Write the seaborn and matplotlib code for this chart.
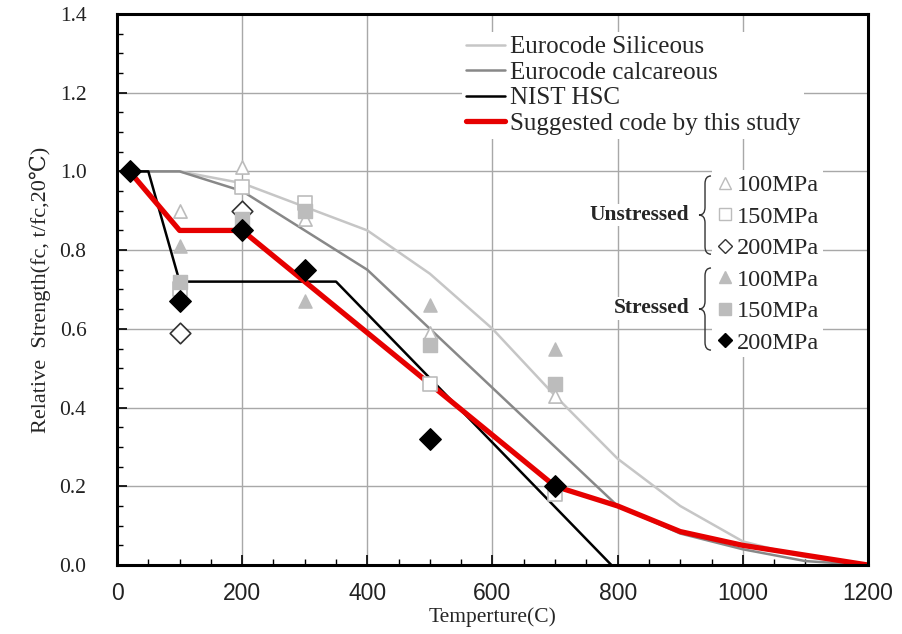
import matplotlib
matplotlib.use("Agg")
import matplotlib.pyplot as plt
from matplotlib.lines import Line2D
from matplotlib.path import Path
from matplotlib.patches import PathPatch
import seaborn as sns

# Courbes de référence
temp_code = [20, 100, 200, 300, 400, 500, 600, 700, 800, 900, 1000, 1100, 1200]
euro_light = [1.0, 1.0, 0.97, 0.91, 0.85, 0.74, 0.60, 0.43, 0.27, 0.15, 0.06, 0.02, 0.0]
euro_dark = [1.0, 1.0, 0.95, 0.85, 0.75, 0.60, 0.45, 0.30, 0.15, 0.08, 0.04, 0.01, 0.0]

temp_nist = [20, 50, 100, 350, 790]
nist_hsc = [1.0, 1.0, 0.72, 0.72, 0.0]

temp_study = [20, 100, 200, 700, 800, 900, 1000, 1100, 1200]
study = [1.0, 0.85, 0.85, 0.20, 0.15, 0.085, 0.05, 0.025, 0.0]

# Points expérimentaux
t_u100 = [100, 200, 300, 500, 700]
u100 = [0.90, 1.01, 0.88, 0.59, 0.43]
t_u150 = [100, 200, 300, 500, 700]
u150 = [0.70, 0.96, 0.92, 0.46, 0.18]
t_u200 = [100, 200]
u200 = [0.59, 0.90]
t_s100 = [100, 300, 500, 700]
s100 = [0.81, 0.67, 0.66, 0.55]
t_s150 = [100, 200, 300, 500, 700]
s150 = [0.72, 0.88, 0.90, 0.56, 0.46]
t_s200 = [20, 100, 200, 300, 500, 700]
s200 = [1.0, 0.67, 0.85, 0.75, 0.32, 0.20]

sns.set_style("white")
plt.rcParams['font.family'] = ['Liberation Serif', 'DejaVu Serif']

LIGHT = '#c6c6c6'
DARK = '#888888'
MARK = '#bcbcbc'

fig = plt.figure(figsize=(9.03, 6.34), dpi=100)
ax = fig.add_axes([0.1296, 0.1088, 0.8316, 0.8692])

# Courbes
sns.lineplot(x=temp_code, y=euro_light, ax=ax, color=LIGHT, lw=1.8, estimator=None, sort=False, zorder=2)
sns.lineplot(x=temp_code, y=euro_dark, ax=ax, color=DARK, lw=1.8, estimator=None, sort=False, zorder=2)
sns.lineplot(x=temp_nist, y=nist_hsc, ax=ax, color='black', lw=1.8, estimator=None, sort=False, zorder=2)
sns.lineplot(x=temp_study, y=study, ax=ax, color='#e60000', lw=3.8, estimator=None, sort=False, zorder=2.5)

# Points
sns.scatterplot(x=t_u100, y=u100, ax=ax, marker='^', s=90, facecolor='white', edgecolor=MARK, linewidth=1.2, zorder=3)
sns.scatterplot(x=t_u150, y=u150, ax=ax, marker='s', s=90, facecolor='white', edgecolor=MARK, linewidth=1.2, zorder=3)
sns.scatterplot(x=t_u200, y=u200, ax=ax, marker='D', s=110, facecolor='white', edgecolor='#333333', linewidth=1.2, zorder=3)
sns.scatterplot(x=t_s100, y=s100, ax=ax, marker='^', s=90, facecolor=MARK, edgecolor=MARK, linewidth=1, zorder=3)
sns.scatterplot(x=t_s150, y=s150, ax=ax, marker='s', s=90, facecolor=MARK, edgecolor=MARK, linewidth=1, zorder=3)
sns.scatterplot(x=t_s200, y=s200, ax=ax, marker='D', s=120, facecolor='black', edgecolor='black', linewidth=1, zorder=3.5)

# Axes
ax.set_xlim(0, 1200)
ax.set_ylim(0, 1.4)
ax.set_xticks(range(0, 1201, 200))
ax.set_yticks([0.0, 0.2, 0.4, 0.6, 0.8, 1.0, 1.2, 1.4])
ax.set_yticklabels(['0.0', '0.2', '0.4', '0.6', '0.8', '1.0', '1.2', '1.4'])
ax.set_xticks(range(0, 1201, 50), minor=True)
ax.set_yticks([i * 0.05 for i in range(29)], minor=True)
ax.grid(True, which='major', color='#a8a8a8', lw=1)
ax.set_axisbelow(True)
for s in ax.spines.values():
    s.set_color('black')
    s.set_linewidth(2.2)
ax.tick_params(axis='both', which='both', direction='in', left=True, bottom=True, right=False, top=False, color='black')
ax.tick_params(axis='both', which='major', length=7, width=1.2)
ax.tick_params(axis='both', which='minor', length=4, width=1)
ax.tick_params(axis='y', which='major', pad=22, labelsize=15.5)
ax.tick_params(axis='x', which='major', pad=12, labelsize=16.5)
for lab in ax.get_xticklabels():
    lab.set_family(['Liberation Sans', 'DejaVu Sans'])
    lab.set_color('#222222')
for lab in ax.get_yticklabels():
    lab.set_color('#222222')

ax.set_xlabel('Temperture(C)', fontsize=15.5, labelpad=2)
ax.set_ylabel('Relative  Strength(fc, t/fc,20\u2103)', fontsize=16, labelpad=6)

# Légende des courbes
line_handles = [
    Line2D([], [], color=LIGHT, lw=1.8),
    Line2D([], [], color=DARK, lw=1.8),
    Line2D([], [], color='black', lw=1.8),
    Line2D([], [], color='#e60000', lw=3.8),
]
line_labels = ['Eurocode Siliceous', 'Eurocode calcareous', 'NIST HSC', 'Suggested code by this study']
leg1 = ax.legend(line_handles, line_labels, loc='upper left', bbox_to_anchor=(0.46, 0.967),
                 frameon=True, facecolor='white', edgecolor='none', framealpha=1, fancybox=False,
                 fontsize=18, handlelength=1.55, handletextpad=0.2, labelspacing=0.12,
                 borderpad=0.15, borderaxespad=0)
ax.add_artist(leg1)

# Légende des essais
pt_handles = [
    Line2D([], [], ls='none', marker='^', ms=8, mfc='white', mec=MARK, mew=1),
    Line2D([], [], ls='none', marker='s', ms=8, mfc='white', mec=MARK, mew=1),
    Line2D([], [], ls='none', marker='D', ms=7, mfc='white', mec='#333333', mew=1),
    Line2D([], [], ls='none', marker='^', ms=8, mfc=MARK, mec=MARK),
    Line2D([], [], ls='none', marker='s', ms=8, mfc=MARK, mec=MARK),
    Line2D([], [], ls='none', marker='D', ms=7, mfc='black', mec='black'),
]
pt_labels = ['100MPa', '150MPa', '200MPa', '100MPa', '150MPa', '200MPa']
leg2 = ax.legend(pt_handles, pt_labels, loc='upper left', bbox_to_anchor=(0.792, 0.716),
                 frameon=True, facecolor='white', edgecolor='none', framealpha=1, fancybox=False,
                 fontsize=17.5, handlelength=0.75, handletextpad=0.15, labelspacing=0.39,
                 borderpad=0.15, borderaxespad=0)

ax.text(0.762, 0.635, 'Unstressed', transform=ax.transAxes, ha='right', va='center',
        fontsize=15.5, fontweight='bold', bbox=dict(facecolor='white', edgecolor='none', pad=1), zorder=5)
ax.text(0.762, 0.466, 'Stressed', transform=ax.transAxes, ha='right', va='center',
        fontsize=15.5, fontweight='bold', bbox=dict(facecolor='white', edgecolor='none', pad=1), zorder=5)


def draw_brace(ax, xl, xr, yt, yb, r=0.014):
    xm = (xl + xr) / 2
    ym = (yt + yb) / 2
    verts = [(xr, yt), (xm, yt), (xm, yt - r), (xm, ym + r), (xm, ym), (xl, ym),
             (xm, ym), (xm, ym - r), (xm, yb + r), (xm, yb), (xr, yb)]
    codes = [Path.MOVETO, Path.CURVE3, Path.CURVE3, Path.LINETO, Path.CURVE3, Path.CURVE3,
             Path.CURVE3, Path.CURVE3, Path.LINETO, Path.CURVE3, Path.CURVE3]
    ax.add_patch(PathPatch(Path(verts, codes), transform=ax.transAxes, fill=False,
                           edgecolor='#333333', lw=1, zorder=6, clip_on=False))


draw_brace(ax, 0.775, 0.791, 0.706, 0.564)
draw_brace(ax, 0.775, 0.791, 0.539, 0.390)

fig.savefig('out.png', dpi=100)
